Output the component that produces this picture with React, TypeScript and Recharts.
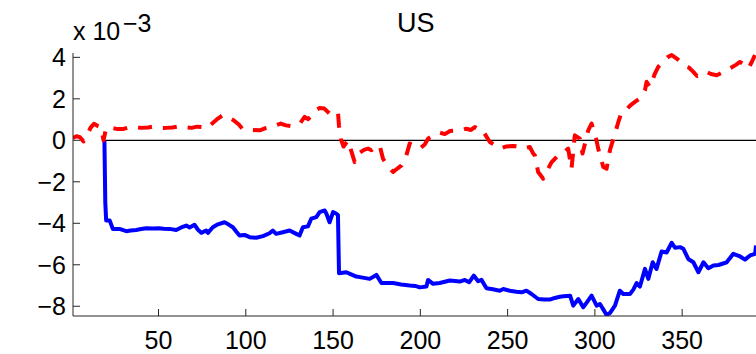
import React from "react";
import { LineChart, Line, XAxis, YAxis, Customized } from "recharts";

// values are in units of 1e-3 (axis shows "x 10^-3")
const blueDays = [
  19, 19.5, 20, 22, 23.8, 27.6, 31.5, 34, 37.2, 40, 43, 47, 50, 53, 56.3, 60.1, 63, 65.9, 67.8, 70.6,
  72.5, 74.5, 77.3, 78.3, 81.1, 84, 87.8, 90, 92.6, 94.5, 96.4, 99.3, 102.2, 106, 109.8, 113.6, 115.5,
  117.4, 121.2, 125.1, 128.9, 130.8, 132.7, 135.6, 137.5, 140.4, 142.3, 145.2, 146.2, 148, 150, 151.9,
  152.8, 153.4, 157.6, 160, 163.3, 167, 171, 174.8, 177.7, 184.4, 189, 193.9, 197, 199.7, 203.5, 204.4,
  207.3, 211.1, 216.9, 222.6, 225.5, 228, 230.6, 233.1, 235, 237.9, 241.5, 245.5, 247.5, 251.3, 255,
  258, 260.8, 263.7, 267.5, 271, 274.2, 277, 280, 282, 285.8, 287.6, 290.5, 293.3, 295.5, 298.1, 301,
  302.9, 304.8, 306.7, 308.6, 311.5, 314.3, 316.3, 320.1, 322, 323.9, 325.8, 328.7, 330.6, 333.1,
  335.3, 338.2, 341.1, 344, 345.9, 348.8, 350.7, 353.5, 356.4, 359.3, 362.2, 365, 367.9, 370.8, 373,
  375.5, 379.3, 383.2, 386, 388.9, 391.8, 392.3,
];
const blueValues = [
  0, -3.0, -3.86, -3.86, -4.27, -4.27, -4.38, -4.35, -4.32, -4.28, -4.24, -4.25, -4.24, -4.26, -4.27,
  -4.32, -4.2, -4.11, -4.2, -4.07, -4.3, -4.46, -4.35, -4.46, -4.19, -4.05, -3.95, -4.05, -4.19, -4.4,
  -4.59, -4.56, -4.67, -4.7, -4.62, -4.48, -4.35, -4.51, -4.43, -4.35, -4.51, -4.59, -4.19, -4.15,
  -3.78, -3.7, -3.46, -3.38, -3.54, -3.95, -3.46, -3.54, -3.6, -6.41, -6.36, -6.45, -6.57, -6.62,
  -6.68, -6.49, -6.88, -6.88, -6.95, -7.0, -7.02, -7.09, -7.05, -6.73, -6.92, -6.88, -6.76, -6.81,
  -6.73, -6.84, -6.52, -6.79, -6.73, -7.13, -7.18, -7.25, -7.17, -7.25, -7.3, -7.33, -7.25, -7.41,
  -7.65, -7.68, -7.68, -7.6, -7.54, -7.52, -7.49, -7.97, -7.65, -8.05, -7.8, -7.49, -7.97, -7.89,
  -8.15, -8.42, -8.33, -7.97, -7.25, -7.41, -7.41, -7.2, -6.88, -7.05, -6.2, -6.68, -5.88, -6.2,
  -5.36, -5.41, -4.94, -5.18, -5.15, -5.23, -5.72, -5.88, -6.36, -5.88, -6.17, -6.04, -6.01, -5.95,
  -5.88, -5.47, -5.6, -5.75, -5.55, -5.47, -5.07,
];

const redDays = [
  1, 3, 5, 7, 9, 11, 13, 15, 17, 18.5, 20, 23, 26, 30, 33, 36, 40, 44, 47, 51, 54, 58, 62, 65, 69, 72,
  75, 78, 80, 84, 87, 90, 93, 96, 98, 101, 104, 108, 111, 114, 117, 120, 123, 126, 129, 131, 133.7,
  135.6, 138, 140, 142.3, 145, 148, 150, 152.8, 153.4, 154.5, 156, 158.5, 160, 162.4, 164, 165.2, 168,
  170, 172, 174, 176.7, 178.6, 181, 184.4, 187, 189.2, 192, 193.9, 196, 199.7, 202.5, 204.4, 207.3,
  209, 211.1, 214, 217, 221.6, 224, 226.4, 229, 231.2, 233, 235, 237, 239.8, 242, 245.5, 249, 253.2,
  256, 258.9, 262.7, 264.7, 265.6, 267.5, 270.4, 273, 275.2, 277, 279, 282, 284.7, 286.6, 288.5,
  291.4, 292.9, 296.2, 298.1, 300.9, 301.9, 304.8, 306.7, 308.6, 311.5, 313.5, 315.3, 318.2, 320.5,
  322.9, 326.8, 328.7, 329.6, 331.5, 334.4, 336.3, 339, 341.5, 344, 346.9, 349, 352.6, 354, 356.4,
  358.5, 360, 362.1, 364, 366.5, 369.8, 372.5, 375.5, 378, 381, 383.1, 385.5, 388, 390, 391.7,
];
const redValues = [
  0.11, 0.2, 0.15, -0.05, 0.2, 0.6, 0.8, 0.7, 0.64, 0.0, 0.6, 0.6, 0.55, 0.55, 0.62, 0.65, 0.6, 0.62,
  0.66, 0.6, 0.6, 0.62, 0.68, 0.63, 0.6, 0.66, 0.64, 0.6, 0.76, 1.05, 1.22, 1.1, 0.97, 0.76, 0.56,
  0.55, 0.5, 0.48, 0.58, 0.64, 0.72, 0.81, 0.72, 0.68, 0.75, 0.81, 1.13, 1.02, 1.2, 1.45, 1.56, 1.53,
  1.29, 1.3, 1.37, 0.69, 0.05, -0.3, 0.0, -0.4, -1.05, -0.8, -0.6, -0.45, -0.4, -0.48, -0.35, -0.24,
  -0.89, -1.2, -1.53, -1.35, -1.21, -0.72, -0.16, -0.25, -0.4, -0.2, 0.08, 0.24, 0.3, 0.37, 0.3,
  0.45, 0.48, 0.5, 0.56, 0.5, 0.64, 0.55, 0.56, 0.3, -0.08, -0.2, -0.4, -0.3, -0.27, -0.3, -0.4,
  -0.32, -0.64, -0.72, -1.53, -1.85, -1.4, -1.05, -0.9, -0.72, -0.6, -0.4, -1.37, 0.24, 0.08, -0.64,
  0.48, 0.81, 0.0, -0.4, -1.29, -1.37, -0.48, 0.32, 0.9, 1.37, 1.5, 1.7, 1.85, 2.09, 2.42, 2.82,
  2.57, 3.22, 3.54, 3.8, 4.0, 4.11, 3.94, 3.8, 3.54, 3.5, 3.3, 3.1, 3.15, 3.22, 3.3, 3.2, 3.14,
  3.25, 3.38, 3.5, 3.65, 3.78, 3.65, 3.46, 3.8, 4.11,
];

const zeroDays = [19, 392.3];
const zeroValues = [0, 0];

const xTicks = [50, 100, 150, 200, 250, 300, 350];
const yTicks = [-8, -6, -4, -2, 0, 2, 4];
const title = "US";

const FONT = "'Liberation Sans', Arial, Helvetica, sans-serif";

const toPoints = (xs: number[], ys: number[]) => xs.map((x, i) => ({ x, y: ys[i] }));

const fmt = (v: number) => (v < 0 ? `\u2212${Math.abs(v)}` : `${v}`);

function YTick(props: any) {
  const { x, y, payload } = props;
  return (
    <g>
      <line x1={x + 7} x2={x + 14} y1={y} y2={y} stroke="#262626" strokeWidth={1} />
      <text x={x} y={y + 9} textAnchor="end" fontSize={25} fontFamily={FONT} fill="#000">
        {fmt(payload.value)}
      </text>
    </g>
  );
}

function XTick(props: any) {
  const { x, y, payload } = props;
  return (
    <g>
      <line x1={x} x2={x} y1={y} y2={y - 7} stroke="#262626" strokeWidth={1} />
      <text x={x} y={y + 33} textAnchor="middle" fontSize={25} fontFamily={FONT} fill="#000">
        {fmt(payload.value)}
      </text>
    </g>
  );
}

function Annotations() {
  return (
    <g fontFamily={FONT} fill="#000">
      <text x={415.7} y={31.5} textAnchor="middle" fontSize={27}>
        {title}
      </text>
      <text x={73} y={40} fontSize={25}>
        x 10
      </text>
      <text x={123} y={32} fontSize={25}>
        {"\u22123"}
      </text>
    </g>
  );
}

export default function App() {
  const blue = toPoints(blueDays, blueValues);
  const red = toPoints(redDays, redValues);
  const zero = toPoints(zeroDays, zeroValues);

  return (
    <div style={{ position: "absolute", left: 0, top: 0, background: "#fff" }}>
      <LineChart width={756} height={354} margin={{ top: 53, right: 0, bottom: 0, left: 13 }}>
        <XAxis
          dataKey="x"
          type="number"
          domain={[1, 392.3]}
          allowDataOverflow
          ticks={xTicks}
          interval={0}
          tickSize={0}
          tickMargin={0}
          height={38}
          axisLine={{ stroke: "#262626", strokeWidth: 1 }}
          tickLine={false}
          tick={<XTick />}
        />
        <YAxis
          type="number"
          domain={[-8.47, 4.21]}
          allowDataOverflow
          ticks={yTicks}
          interval={0}
          tickSize={0}
          tickMargin={7}
          width={60}
          axisLine={{ stroke: "#262626", strokeWidth: 1 }}
          tickLine={false}
          tick={<YTick />}
        />
        <Line
          data={zero}
          dataKey="y"
          stroke="#000"
          strokeWidth={1.3}
          dot={false}
          isAnimationActive={false}
          type="linear"
        />
        <Line
          data={blue}
          dataKey="y"
          stroke="#0000ff"
          strokeWidth={4}
          dot={false}
          isAnimationActive={false}
          type="linear"
          strokeLinejoin="round"
        />
        <Line
          data={red}
          dataKey="y"
          stroke="#ff0000"
          strokeWidth={4}
          strokeDasharray="14 11"
          dot={false}
          isAnimationActive={false}
          type="linear"
          strokeLinejoin="round"
        />
        <Customized component={Annotations} />
      </LineChart>
    </div>
  );
}
